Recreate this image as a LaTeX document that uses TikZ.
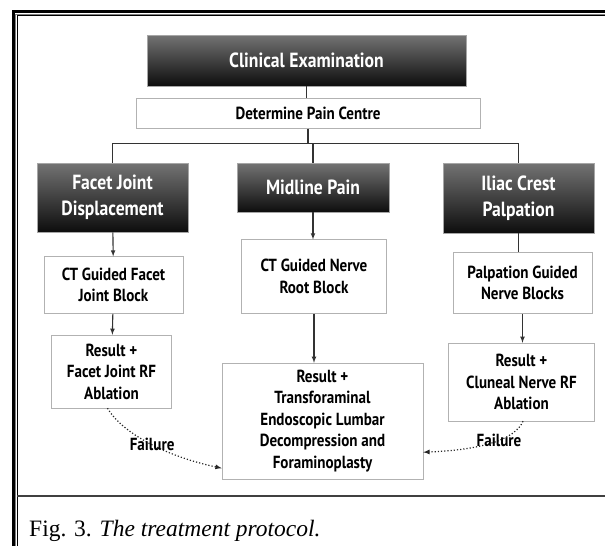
\documentclass[tikz,border=0pt]{standalone}
\usepackage{fontspec}
\usepackage{tikz}
\usetikzlibrary{arrows,shapes,positioning,calc}
\newfontfamily\boxfont[FakeStretch=0.86]{PT Sans}
\newfontfamily\capfont{Liberation Serif}

\begin{document}
\begin{tikzpicture}[x=1pt,y=-1pt,
    dark/.style={draw=black!35, top color=black!55, middle color=black!85, bottom color=black!95,
      text=white, inner sep=0pt, align=center, font=\boxfont\bfseries\fontsize{20.5}{26}\selectfont},
    light/.style={draw=black!30, fill=white, inner sep=0pt, align=center,
      font=\boxfont\bfseries\fontsize{17.5}{21.5}\selectfont},
    link/.style={draw=black!80, line width=1.1pt},
    fail/.style={draw=black!85, dotted, line width=1.2pt},
    faillabel/.style={font=\boxfont\bfseries\fontsize{17.5}{21}\selectfont, inner sep=0pt}]
        \useasboundingbox (0,0) rectangle (605,546);
        % frame
        \draw[line width=3pt] (13.5,546) -- (13.5,11.5) -- (605,11.5);
        \draw[line width=0.8pt, black!50] (15.8,546) -- (15.8,14) -- (605,14);
        \draw[line width=1pt] (17.3,546) -- (17.3,15.5) -- (605,15.5);
        \draw[line width=1.3pt, black!75] (17.3,496) -- (605,496);

        \draw (306.5,60.5) node[dark, minimum width=319pt, minimum height=51pt] (a1) {Clinical Examination};
        \draw node[light, minimum width=344pt, minimum height=30pt, below = 12pt of a1, xshift=1.5pt] (a2) {Determine Pain Centre};
        \draw (112.5,163) node[dark, anchor=north, minimum width=151pt, minimum height=69pt] (a3) {Facet Joint\\Displacement};
        \draw (313,163) node[dark, anchor=north, minimum width=152pt, minimum height=49pt] (a4) {Midline Pain};
        \draw (518.5,163) node[dark, anchor=north, minimum width=151pt, minimum height=70pt] (a5) {Iliac Crest\\Palpation};
        \draw node[light, minimum width=139pt, minimum height=57pt, below = 24pt of a3, xshift=1pt] (a6) {CT Guided Facet\\Joint Block};
        \draw node[light, minimum width=145pt, minimum height=74pt, below = 27pt of a4, xshift=1pt] (a7) {CT Guided Nerve\\Root Block};
        \draw node[light, minimum width=139pt, minimum height=61pt, below = 19pt of a5, xshift=4pt] (a8) {Palpation Guided\\Nerve Blocks};
        \draw node[light, minimum width=120pt, minimum height=73pt, below = 21pt of a6, xshift=-2pt] (a9) {Result +\\Facet Joint RF\\Ablation};
        \draw node[light, minimum width=201pt, minimum height=116pt, below = 49pt of a7, xshift=8.5pt] (a10) {Result +\\Transforaminal\\Endoscopic Lumbar\\Decompression and\\Foraminoplasty};
        \draw node[light, minimum width=146pt, minimum height=78pt, below = 29pt of a8, xshift=-1pt] (a11) {Result +\\Cluneal Nerve RF\\Ablation};

        % tree lines
        \draw[link] (a1.south) -- (a1.south |- a2.north);
        \draw[link] (a2.south) -- ++(0,15) coordinate (b1);
        \draw[link] (b1) -| (a3.north);
        \draw[link] (b1) -| (a5.north);
        \draw[link] (b1 -| a4.north) -- (a4.north);
        \draw (a3) edge[link,->,>=latex] (a6);
        \draw (a4.south) edge[link,->,>=latex] (a4.south |- a7.north);
        \draw (a5.south) edge[link] (a5.south |- a8.north);
        \draw (a6) edge[link,->,>=latex] (a9);
        \draw (a7.south) edge[link,->,>=latex] (a7.south |- a10.north);
        \draw (a8.south) edge[link,->,>=latex] (a8.south |- a11.north);

        % failure paths
        \coordinate (c1) at ([yshift=11pt]a10.south west);
        \coordinate (c2) at ([yshift=27pt]a10.south east);
        \draw[fail,->,>=latex] ([xshift=-4pt]a9.south) .. controls (120,430) and (160,455) .. (c1)
            node[faillabel, pos=0.55] {Failure};
        \draw[fail,->,>=latex] ([xshift=1.5pt]a11.south) .. controls (515,440) and (480,450) .. (c2)
            node[faillabel, pos=0.42] {Failure};

        \draw (29,531) node[anchor=west, inner sep=0pt, font=\capfont\fontsize{23.5}{28}\selectfont] (cap) {Fig. 3. \textit{The treatment protocol.}};
      \end{tikzpicture}
\end{document}
